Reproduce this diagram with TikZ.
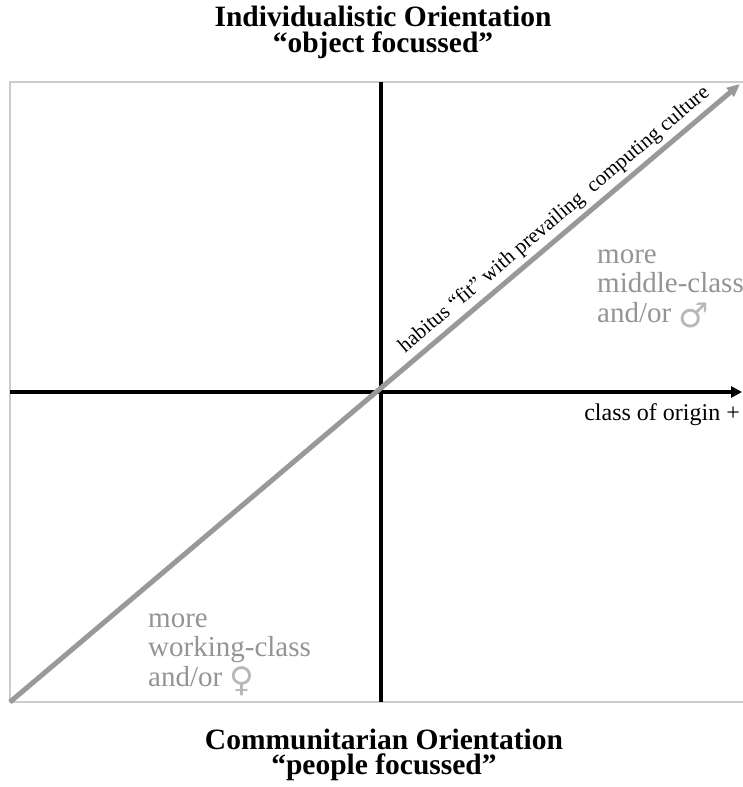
\documentclass[tikz,border=0pt]{standalone}
\usepackage{fontspec}
\setmainfont{Liberation Serif}
\newfontfamily\symfont{DejaVu Sans}
\usetikzlibrary{arrows.meta}

\newcommand{\gsym}[1]{\raisebox{-5pt}{\symfont\fontsize{34}{34}\selectfont\color{black!28}#1}}

\begin{document}
\begin{tikzpicture}[x=1pt, y=-1pt,
    ttl/.style={font=\fontsize{29.5}{25}\selectfont\bfseries, align=center, inner sep=0pt},
    frm/.style={draw=black!20, line width=2.5pt},
    axis/.style={line width=3.5pt, black},
    fitarr/.style={-{Triangle[length=13pt, width=11pt]}, line width=5pt, black!40},
    grp/.style={font=\fontsize{29}{29.5}\selectfont, text=black!42, align=left, inner sep=0pt},
    lbl/.style={font=\fontsize{21}{22}\selectfont, text=black, inner sep=1pt},
    axlbl/.style={font=\fontsize{24}{25}\selectfont, inner sep=0pt}
]
\useasboundingbox (0,0) rectangle (742,787);
\draw[frm] (10,82) rectangle (760,702);

\coordinate (n) at (381,82);
\coordinate (s) at (381,702);
\coordinate (w) at (10,392);
\coordinate (e) at (742,392);
\coordinate (sw) at (10,702);
\coordinate (ne) at (740,84);

\node[ttl, anchor=base] (indiv) at (383,52) {Individualistic Orientation\\``object focussed''};
\node[ttl, anchor=base] (comm) at (384,774) {Communitarian Orientation\\``people focussed''};

\draw[axis] (n) -- (s);
\draw[axis, -{Triangle[length=11pt, width=11pt]}] (w) -- (e);
\draw[fitarr] (sw) -- (ne) node[lbl, pos=0.76, sloped, above=3pt] (fit) {habitus ``fit'' with prevailing\ \ computing culture};

\node[axlbl, anchor=base east] (orig) at (740,420) {class of origin +};
\node[grp, anchor=base west] (mid) at (597,322) {more\\middle-class\\and/or \gsym{♂}};
\node[grp, anchor=base west] (wrk) at (148,686) {more\\working-class\\and/or \gsym{♀}};
\end{tikzpicture}
\end{document}
